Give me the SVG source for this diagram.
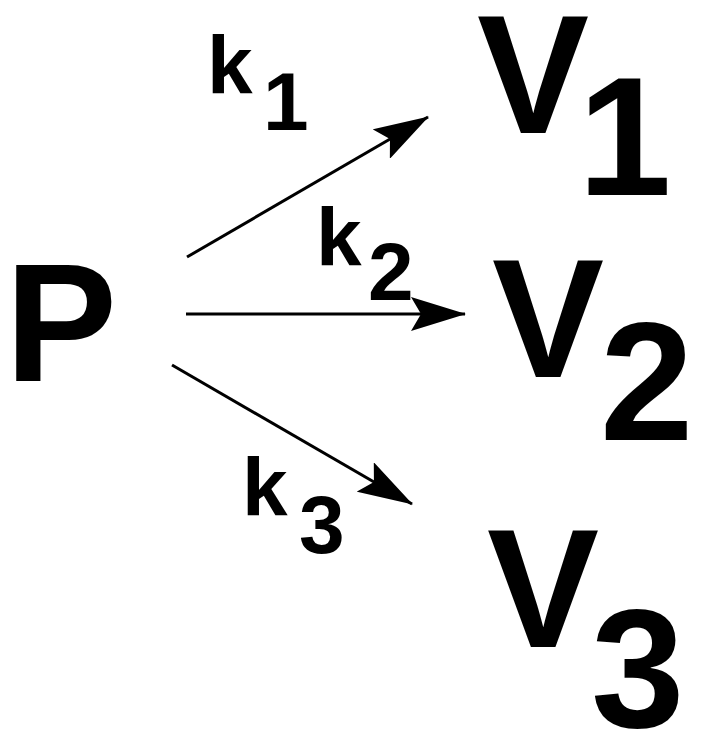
<svg xmlns="http://www.w3.org/2000/svg" width="704" height="744" viewBox="0 0 704 744">
<style>
.t{font-family:"Liberation Sans",Arial,sans-serif;font-weight:bold;fill:#000}
.big{font-size:168px}
.k{font-size:82px}
.c{stroke:#000;stroke-width:3;fill:none}
</style>
<defs>
<marker id="ah" viewBox="0 0 55 34" refX="54" refY="17" markerWidth="55" markerHeight="34" markerUnits="userSpaceOnUse" orient="auto">
<path d="M0,0 L55,17 L0,34 L10,17 Z" fill="#000"/>
</marker>
</defs>
<rect width="704" height="744" fill="#fff"/>
<g id="connectors">
<line class="c" x1="187" y1="257" x2="428" y2="117" marker-end="url(#ah)"/>
<line class="c" x1="186" y1="314" x2="465" y2="314" marker-end="url(#ah)"/>
<line class="c" x1="172" y1="365" x2="412" y2="504" marker-end="url(#ah)"/>
</g>
<g id="P"><text class="t big" x="5" y="381">P</text></g>
<g id="V1"><text class="t big" x="477" y="133">V</text><text class="t big" x="578" y="195">1</text></g>
<g id="V2"><text class="t big" x="492" y="377">V</text><text class="t big" x="600" y="440">2</text></g>
<g id="V3"><text class="t big" x="487" y="647">V</text><text class="t big" x="591" y="727">3</text></g>
<g id="k1"><text class="t k" x="207" y="93">k</text><text class="t k" x="263" y="130">1</text></g>
<g id="k2"><text class="t k" x="316" y="265">k</text><text class="t k" x="368" y="300">2</text></g>
<g id="k3"><text class="t k" x="242" y="515">k</text><text class="t k" x="299" y="553">3</text></g>
</svg>
